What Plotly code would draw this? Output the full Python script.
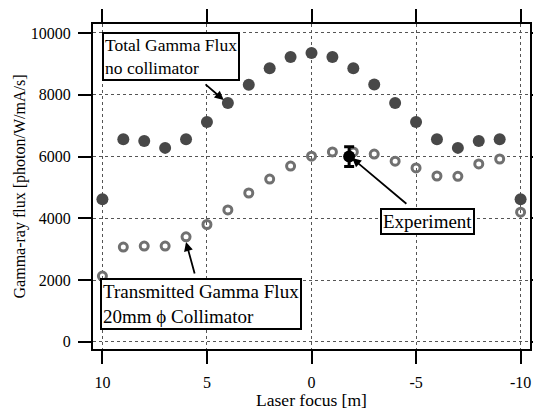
import plotly.graph_objects as go

# Laser focus positions [m]
focus = [10, 9, 8, 7, 6, 5, 4, 3, 2, 1, 0, -1, -2, -3, -4, -5, -6, -7, -8, -9, -10]

# Total gamma flux, no collimator
total_flux = [4620, 6560, 6500, 6280, 6560, 7120, 7730, 8320, 8860, 9220, 9350,
              9220, 8860, 8330, 7730, 7120, 6560, 6280, 6500, 6560, 4620]

# Transmitted gamma flux through 20 mm collimator
transmitted_flux = [2130, 3070, 3100, 3100, 3400, 3800, 4270, 4820, 5270, 5690, 6010,
                    6150, 6150, 6080, 5850, 5630, 5370, 5360, 5760, 5920, 4200]

# Measured point
exp_focus = [-1.8]
exp_flux = [6000]
exp_err = [320]

x_ticks = [10, 5, 0, -5, -10]
x_tick_text = ["10", "5", "0", "-5", "-10"]
y_ticks = [0, 2000, 4000, 6000, 8000, 10000]
y_tick_text = ["0", "2000", "4000", "6000", "8000", "10000"]

SERIF = "Liberation Serif"

fig = go.Figure()

fig.add_trace(go.Scatter(
    x=focus, y=total_flux, mode="markers",
    marker=dict(symbol="circle", size=12, color="#484848"),
    showlegend=False,
))
fig.add_trace(go.Scatter(
    x=focus, y=transmitted_flux, mode="markers",
    marker=dict(symbol="circle-open", size=8, color="#707070",
                line=dict(width=3, color="#707070")),
    showlegend=False,
))
fig.add_trace(go.Scatter(
    x=exp_focus, y=exp_flux, mode="markers",
    marker=dict(symbol="circle", size=12, color="black"),
    error_y=dict(type="data", array=exp_err, color="black", thickness=3, width=5),
    showlegend=False,
))

axis_common = dict(
    showline=True, linewidth=2, linecolor="black", mirror="allticks",
    ticks="outside", ticklen=13, tickwidth=2, tickcolor="black",
    showgrid=True, gridcolor="#555555", gridwidth=1, griddash="dot",
    zeroline=False, ticklabeloverflow="allow",
    tickfont=dict(family=SERIF, size=16, color="black"),
)

fig.update_xaxes(
    range=[10.45, -10.45], tickvals=x_ticks, ticktext=x_tick_text, ticklabelstandoff=5,
    title=dict(text="Laser focus [m]", font=dict(family=SERIF, size=17.5, color="black"),
               standoff=8),
    **axis_common,
)
fig.update_yaxes(
    range=[-230, 10290], tickvals=y_ticks, ticktext=y_tick_text, ticklabelstandoff=4,
    title=dict(text="Gamma-ray flux [photon/W/mA/s]",
               font=dict(family=SERIF, size=16, color="black"), standoff=1),
    **axis_common,
)

box = dict(bordercolor="black", borderwidth=2, bgcolor="white", borderpad=1,
           showarrow=False, xref="x", yref="y", xanchor="left", yanchor="top",
           align="left")

fig.add_annotation(x=10.02, y=10030, text="Total Gamma Flux<br>no collimator",
                   font=dict(family=SERIF, size=17.5, color="black"), **box)
fig.add_annotation(x=10.1, y=2070, text="Transmitted Gamma Flux<br>20mm ϕ Collimator",
                   font=dict(family=SERIF, size=19, color="black"), **box)
fig.add_annotation(x=-3.28, y=4330, text="Experiment",
                   font=dict(family=SERIF, size=19, color="black"), **box)

arrow = dict(text="", showarrow=True, arrowhead=2, arrowsize=1, arrowwidth=1.8,
             arrowcolor="black", xref="x", yref="y", axref="x", ayref="y")
fig.add_annotation(x=4.2, y=7830, ax=5.14, ay=8380, **arrow)
fig.add_annotation(x=6.0, y=3230, ax=5.57, ay=2165, **arrow)
fig.add_annotation(x=-1.94, y=5950, ax=-4.61, ay=4430, **arrow)

fig.update_layout(
    width=533, height=410,
    margin=dict(l=93, r=3, t=24, b=61, autoexpand=False),
    plot_bgcolor="white", paper_bgcolor="white",
    font=dict(family=SERIF, color="black"),
)

fig.write_html("out.html")
